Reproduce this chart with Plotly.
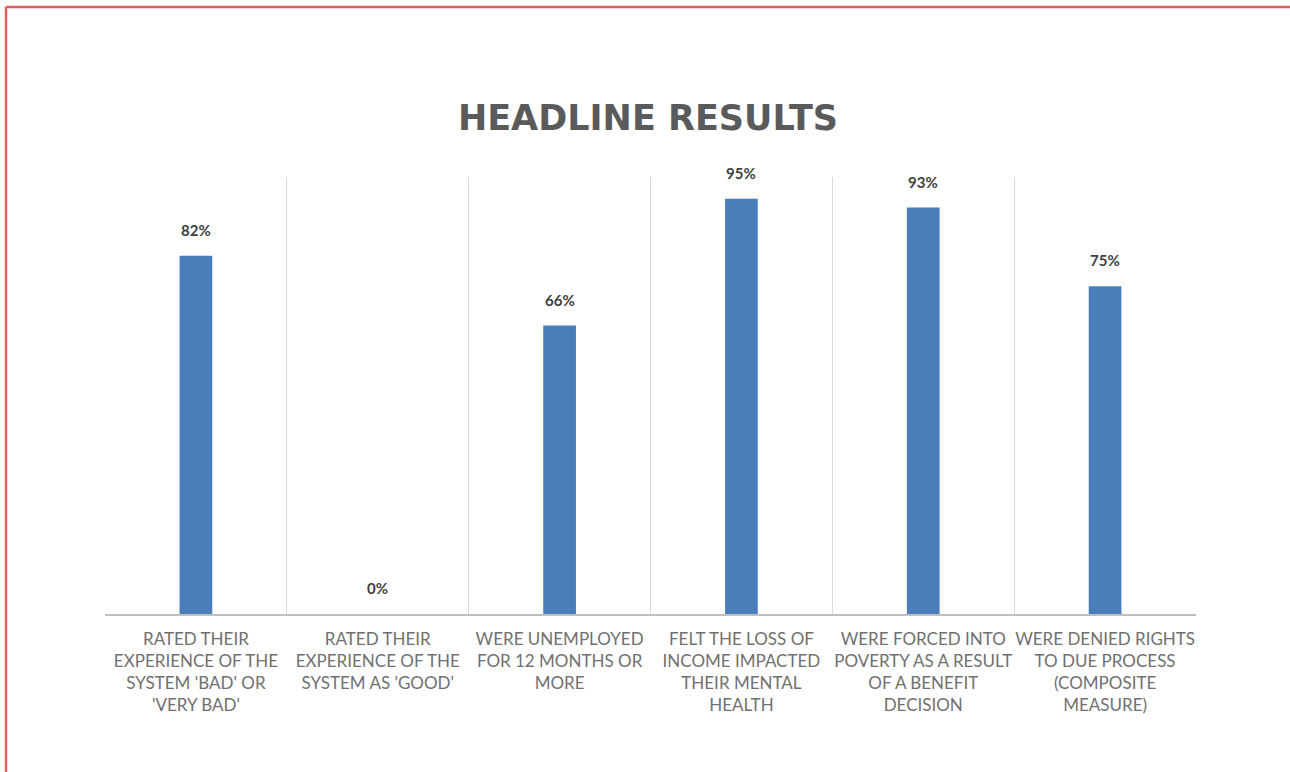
import plotly.graph_objects as go

categories = [
    "RATED THEIR<br>EXPERIENCE OF THE<br>SYSTEM 'BAD' OR<br>'VERY BAD'",
    "RATED THEIR<br>EXPERIENCE OF THE<br>SYSTEM AS 'GOOD'",
    "WERE UNEMPLOYED<br>FOR 12 MONTHS OR<br>MORE",
    "FELT THE LOSS OF<br>INCOME IMPACTED<br>THEIR MENTAL<br>HEALTH",
    "WERE FORCED INTO<br>POVERTY AS A RESULT<br>OF A BENEFIT<br>DECISION",
    "WERE DENIED RIGHTS<br>TO DUE PROCESS<br>(COMPOSITE<br>MEASURE)",
]
values = [82, 0, 66, 95, 93, 75]
value_labels = ["82%", "0%", "66%", "95%", "93%", "75%"]

W, H = 1290, 772
L, R, T, B = 105, 94, 177, 158
pw, ph = W - L - R, H - T - B

fig = go.Figure()
fig.add_trace(go.Bar(
    x=categories, y=values,
    marker=dict(color="#4a7ebb", line=dict(width=0)),
    width=0.18,
    hoverinfo="skip",
))

for c, v, t in zip(categories, values, value_labels):
    fig.add_annotation(
        x=c, y=v, text=t, showarrow=False,
        yanchor="bottom", yshift=15,
        font=dict(family="Lato, 'Open Sans', sans-serif", size=15, color="#404040", weight="bold"),
    )

def px_x(p):
    return (p - L) / pw

def px_y(p):
    return (H - B - p) / ph

# outer border (top and left red frame)
fig.add_shape(type="line", xref="paper", yref="paper",
              x0=px_x(6), x1=px_x(1290), y0=px_y(7), y1=px_y(7),
              line=dict(color="#e06060", width=2.5))
fig.add_shape(type="line", xref="paper", yref="paper",
              x0=px_x(6), x1=px_x(6), y0=px_y(7), y1=px_y(772),
              line=dict(color="#e06060", width=2.5))

fig.update_layout(
    width=W, height=H,
    margin=dict(l=L, r=R, t=T, b=B, autoexpand=False),
    paper_bgcolor="white", plot_bgcolor="white",
    showlegend=False,
    title=dict(
        text="<b>HEADLINE RESULTS</b>",
        x=(648 - L) / pw, xref="paper", y=1 - 118 / H, yref="container",
        xanchor="center", yanchor="middle",
        font=dict(family="'DejaVu Sans', sans-serif", size=35, color="#5a5a5a"),
    ),
    xaxis=dict(
        type="category",
        tickson="boundaries",
        showgrid=True, gridcolor="#d9d9d9", gridwidth=1,
        showline=True, linecolor="#bfbfbf", linewidth=1.5,
        ticks="", ticklen=0,
        tickangle=0,
        ticklabelstandoff=9,
        tickfont=dict(family="Lato, 'Open Sans', sans-serif", size=17, color="#707070"),
        range=[-0.5, 5.5],
        fixedrange=True,
    ),
    yaxis=dict(
        range=[0, 100],
        showgrid=False, showticklabels=False, zeroline=False,
        showline=False, ticks="",
        fixedrange=True,
    ),
    bargap=0.82,
)

fig.write_html("out.html")
